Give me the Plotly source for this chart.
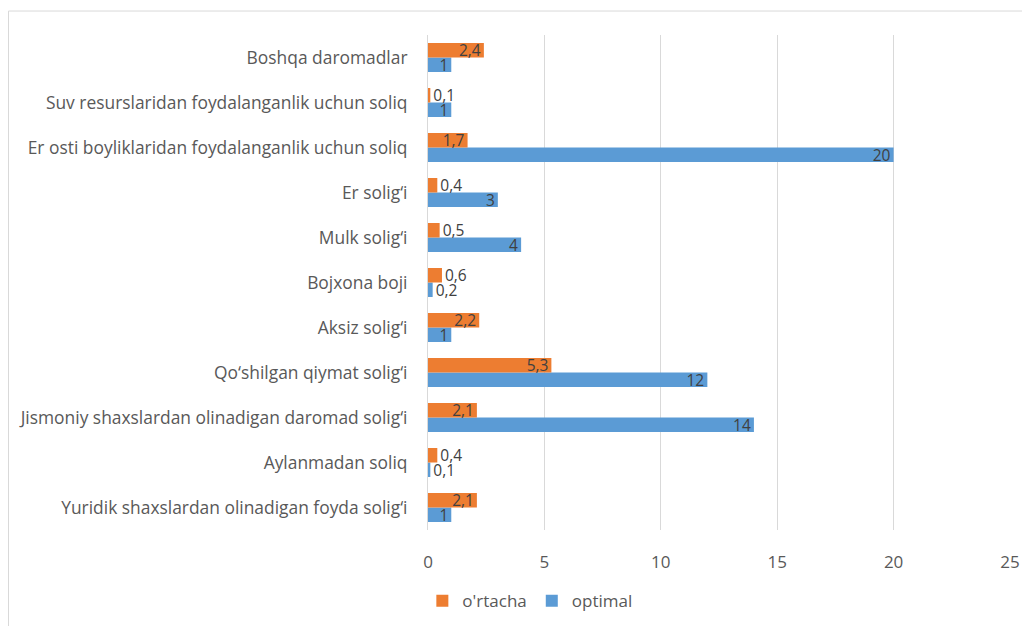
import plotly.graph_objects as go

categories = [
    "Yuridik shaxslardan olinadigan foyda solig‘i",
    "Aylanmadan soliq",
    "Jismoniy shaxslardan olinadigan daromad solig‘i",
    "Qo‘shilgan qiymat solig‘i",
    "Aksiz solig‘i",
    "Bojxona boji",
    "Mulk solig‘i",
    "Er solig‘i",
    "Er osti boyliklaridan foydalanganlik uchun soliq",
    "Suv resurslaridan foydalanganlik uchun soliq",
    "Boshqa daromadlar",
]
ortacha = [2.1, 0.4, 2.1, 5.3, 2.2, 0.6, 0.5, 0.4, 1.7, 0.1, 2.4]
optimal = [1, 0.1, 14, 12, 1, 0.2, 4, 3, 20, 1, 1]
x_ticks = [0, 5, 10, 15, 20, 25]

ORANGE = "#ED7D31"
BLUE = "#5B9BD5"
TEXT = "#595959"
LABEL = "#404040"
FONT = "Open Sans"


def fmt(v):
    return f"{v:g}".replace(".", ",")


def positions(vals):
    return ["inside" if v >= 0.9 else "outside" for v in vals]


fig = go.Figure()
for name, vals, color in [("optimal", optimal, BLUE), ("o'rtacha", ortacha, ORANGE)]:
    fig.add_trace(go.Bar(
        y=categories, x=vals, orientation="h", name=name,
        marker=dict(color=color, line=dict(width=0)),
        text=[fmt(v) for v in vals], textposition=positions(vals),
        insidetextanchor="end", constraintext="none", textangle=0,
        textfont=dict(color=LABEL, size=15.5, family=FONT),
        cliponaxis=False,
    ))

# page body adds an 8px offset; figure sized to fit the window
fig.update_layout(
    width=1022, height=618,
    margin=dict(l=420, r=20, t=27, b=95.5, autoexpand=False),
    paper_bgcolor="white", plot_bgcolor="white",
    barmode="group", bargap=0.356, bargroupgap=0,
    font=dict(family=FONT, size=17, color=TEXT),
    showlegend=True,
    legend=dict(orientation="h", traceorder="reversed",
                x=0.175, y=-0.144, xanchor="center", yanchor="middle",
                font=dict(size=17, color=TEXT, family=FONT),
                itemwidth=30),
    xaxis=dict(range=[0, 25], tickvals=x_ticks, showgrid=True,
               gridcolor="#D9D9D9", gridwidth=1, zeroline=False,
               showline=False, ticks="", ticklabelstandoff=20,
               automargin=False,
               tickfont=dict(size=17, color=TEXT, family=FONT)),
    yaxis=dict(showgrid=False, zeroline=False, showline=True,
               linecolor="#D9D9D9", linewidth=1, ticks="",
               ticklabelstandoff=16, automargin=False,
               tickfont=dict(size=17.4, color=TEXT, family=FONT)),
    shapes=[dict(type="rect", xref="paper", yref="paper",
                 x0=-0.7208, x1=1.2, y0=-0.4, y1=1.0484,
                 line=dict(color="#D9D9D9", width=1), layer="below")],
)

fig.write_html("out.html")
